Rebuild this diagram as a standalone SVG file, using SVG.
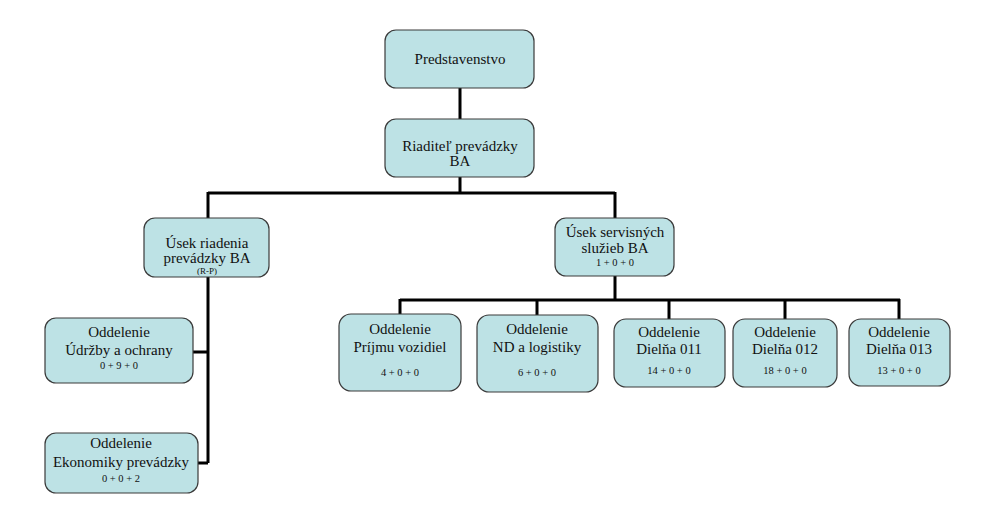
<svg xmlns="http://www.w3.org/2000/svg" width="1000" height="514" viewBox="0 0 1000 514">
<style>
.box{fill:#bde2e5;stroke:#3a3a3a;stroke-width:1.2}
text{font-family:"Liberation Serif","Times New Roman",serif;fill:#111;text-anchor:middle}
.t{font-size:15px}
.s{font-size:10.5px}
.xs{font-size:9px}
.c{fill:none;stroke:#000;stroke-width:3}
</style>
<rect width="1000" height="514" fill="#fff"/>
<g id="connectors">
<path class="c" d="M460 88V119M460 177V193M208 193H615M208 192V219M615 192V219"/>
<path class="c" d="M208 277V463M193 352H208M198 463H208"/>
<path class="c" d="M615 276V300M400 300H900M400 299V314M537 299V315M669 299V319M785 299V319M899 299V319"/>
</g>
<g id="predstavenstvo">
<rect class="box" x="385" y="30" width="149" height="58" rx="11"/>
<text class="t" x="460" y="64">Predstavenstvo</text>
</g>
<g id="riaditel">
<rect class="box" x="385" y="119" width="149" height="58" rx="11"/>
<text class="t" x="460" y="151">Riaditeľ prevádzky</text>
<text class="t" x="460" y="166">BA</text>
</g>
<g id="usek-riadenia">
<rect class="box" x="144" y="218" width="125" height="59" rx="11"/>
<text class="t" x="207" y="248">Úsek riadenia</text>
<text class="t" x="207" y="263">prevádzky BA</text>
<text class="xs" x="207" y="274">(R-P)</text>
</g>
<g id="usek-servisnych">
<rect class="box" x="555" y="218" width="119" height="58" rx="11"/>
<text class="t" x="615" y="237">Úsek servisných</text>
<text class="t" x="615" y="253">služieb BA</text>
<text class="s" x="615" y="266">1 + 0 + 0</text>
</g>
<g id="udrzby">
<rect class="box" x="45" y="318" width="148" height="65" rx="11"/>
<text class="t" x="119" y="337">Oddelenie</text>
<text class="t" x="119" y="355">Údržby a ochrany</text>
<text class="s" x="119" y="369">0 + 9 + 0</text>
</g>
<g id="ekonomiky">
<rect class="box" x="45" y="433" width="153" height="60" rx="11"/>
<text class="t" x="121" y="448">Oddelenie</text>
<text class="t" x="121" y="467">Ekonomiky prevádzky</text>
<text class="s" x="121" y="482">0 + 0 + 2</text>
</g>
<g id="prijmu">
<rect class="box" x="339" y="314" width="122" height="77" rx="12"/>
<text class="t" x="400" y="334">Oddelenie</text>
<text class="t" x="400" y="352">Príjmu vozidiel</text>
<text class="s" x="400" y="376">4 + 0 + 0</text>
</g>
<g id="nd-logistiky">
<rect class="box" x="477" y="315" width="121" height="77" rx="12"/>
<text class="t" x="537" y="334">Oddelenie</text>
<text class="t" x="537" y="352">ND a logistiky</text>
<text class="s" x="537" y="376">6 + 0 + 0</text>
</g>
<g id="dielna-011">
<rect class="box" x="614" y="319" width="111" height="68" rx="12"/>
<text class="t" x="669" y="337">Oddelenie</text>
<text class="t" x="669" y="354">Dielňa 011</text>
<text class="s" x="669" y="374">14 + 0 + 0</text>
</g>
<g id="dielna-012">
<rect class="box" x="733" y="319" width="104" height="68" rx="12"/>
<text class="t" x="785" y="337">Oddelenie</text>
<text class="t" x="785" y="354">Dielňa 012</text>
<text class="s" x="785" y="374">18 + 0 + 0</text>
</g>
<g id="dielna-013">
<rect class="box" x="849" y="319" width="101" height="67" rx="12"/>
<text class="t" x="899" y="337">Oddelenie</text>
<text class="t" x="899" y="354">Dielňa 013</text>
<text class="s" x="899" y="374">13 + 0 + 0</text>
</g>
</svg>
